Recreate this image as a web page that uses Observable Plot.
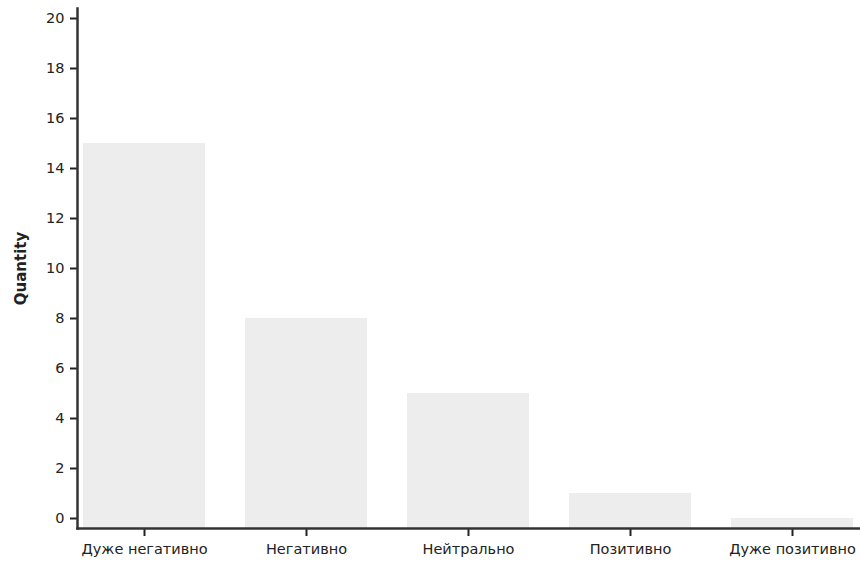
<!DOCTYPE html>
<html>
<head>
<meta charset="utf-8">
<script src="https://cdn.jsdelivr.net/npm/d3@7"></script>
<script src="https://cdn.jsdelivr.net/npm/@observablehq/plot@0.6"></script>
<style>
  html, body { margin: 0; padding: 0; background: #fff; }
  #chart svg { display: block; }
</style>
</head>
<body>
<div id="chart"></div>
<script>
const categories = ["Дуже негативно", "Негативно", "Нейтрально", "Позитивно", "Дуже позитивно"];
const values = [15, 8, 5, 1, 0];
const yTicks = [0, 2, 4, 6, 8, 10, 12, 14, 16, 18, 20];
const yDomain = [-0.4, 20.4];
const yLabel = "Quantity";

const data = categories.map((c, i) => ({category: c, value: values[i]}));

const chart = Plot.plot({
  width: 860,
  height: 565,
  marginTop: 8,
  marginBottom: 37,
  marginLeft: 77,
  marginRight: 0,
  style: {fontFamily: "'DejaVu Sans', sans-serif", fontSize: "14px", color: "#222", background: "#fff"},
  x: {domain: categories, paddingInner: 0.245, paddingOuter: 0.025, label: null},
  y: {domain: yDomain, label: null},
  marks: [
    Plot.barY(data, {x: "category", y1: yDomain[0], y2: "value", fill: "#ededed"}),
    Plot.axisY({ticks: yTicks, tickSize: 7, tickPadding: 6, tickFormat: d => String(d), stroke: "#222", strokeWidth: 2, fontSize: 14.5, fill: "#222", label: null}),
    Plot.axisX({tickSize: 8, tickPadding: 7, stroke: "#222", strokeWidth: 2, fontSize: 14.5, fill: "#222", label: null}),
    Plot.frame({anchor: "left", stroke: "#333", strokeWidth: 2.5}),
    Plot.frame({anchor: "bottom", stroke: "#333", strokeWidth: 2.5}),
    Plot.text([yLabel], {frameAnchor: "left", textAnchor: "middle", text: d => d, rotate: -90, dx: -56, fontSize: 15, fontWeight: "bold", fill: "#222"})
  ]
});
document.getElementById("chart").appendChild(chart);
</script>
</body>
</html>
